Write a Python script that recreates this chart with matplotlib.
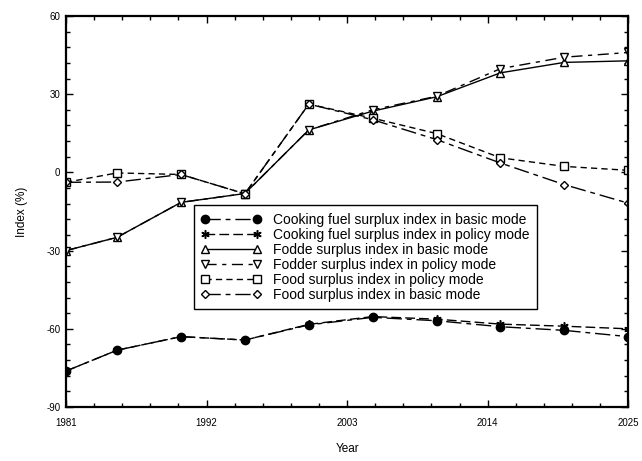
import numpy as np
import matplotlib.pyplot as plt
from matplotlib.ticker import AutoMinorLocator

plt.rcParams['font.family'] = ['Liberation Sans', 'DejaVu Sans']
plt.rcParams['axes.unicode_minus'] = False

years = [1981, 1985, 1990, 1995, 2000, 2005, 2010, 2015, 2020, 2025]

cooking_basic = [-76.2, -68.2, -63.0, -64.3, -58.5, -55.6, -56.9, -59.2, -60.6, -63.0]
cooking_policy = [-76.2, -68.2, -63.0, -64.3, -58.3, -55.3, -56.3, -58.2, -59.0, -60.0]
fodder_basic = [-30.0, -24.9, -11.5, -8.1, 16.3, 23.5, 29.0, 38.2, 42.2, 42.8]
fodder_policy = [-30.0, -24.9, -11.5, -8.1, 16.3, 24.0, 29.2, 39.8, 44.2, 46.0]
food_policy = [-3.8, -0.2, -0.8, -8.2, 26.2, 20.8, 14.9, 5.6, 2.3, 0.8]
food_basic = [-3.8, -3.7, -0.8, -8.2, 26.2, 20.2, 12.6, 3.6, -4.7, -11.8]

labels = [
    "Cooking fuel surplux index in basic mode",
    "Cooking fuel surplus index in policy mode",
    "Fodde surplus index in basic mode",
    "Fodder surplus index in policy mode",
    "Food surplus index in policy mode",
    "Food surplus index in basic mode",
]

fig = plt.figure(figsize=(6.42, 4.61), dpi=100)
ax = fig.add_axes([0.1028, 0.1171, 0.8758, 0.8482])

ms = 6
ax.plot(years, cooking_basic, color='black', lw=1, ls=(0, (11, 3.5, 3.5, 3.5)),
        marker='o', ms=ms, mfc='black', mec='black', label=labels[0])
ax.plot(years, cooking_policy, color='black', lw=1, ls=(0, (7, 3)),
        marker=(6, 2, 0), ms=ms, mec='black', mew=1.1, label=labels[1])
ax.plot(years, fodder_basic, color='black', lw=1, ls='-',
        marker='^', ms=ms, mfc='white', mec='black', label=labels[2])
ax.plot(years, fodder_policy, color='black', lw=1, ls=(0, (8, 4, 3, 4)),
        marker='v', ms=ms, mfc='white', mec='black', label=labels[3])
ax.plot(years, food_policy, color='black', lw=1, ls=(0, (4.5, 3)),
        marker='s', ms=ms, mfc='white', mec='black', label=labels[4])
ax.plot(years, food_basic, color='black', lw=1, ls=(0, (11, 3.5, 3.5, 3.5)),
        marker='D', ms=4.5, mfc='white', mec='black', label=labels[5])

ax.set_xlim(1981, 2025)
ax.set_ylim(-90, 60)
ax.set_xticks([1981, 1992, 2003, 2014, 2025])
ax.set_yticks([-90, -60, -30, 0, 30, 60])
ax.xaxis.set_minor_locator(AutoMinorLocator(5))
ax.yaxis.set_minor_locator(AutoMinorLocator(5))
ax.tick_params(which='both', direction='in', top=True, right=True,
               labelsize=7, width=1)
ax.tick_params(which='major', length=5)
ax.tick_params(which='minor', length=3)
ax.tick_params(axis='x', pad=8)
ax.tick_params(axis='y', pad=4)
for sp in ax.spines.values():
    sp.set_linewidth(1.6)

ax.set_xlabel("Year", fontsize=8.5, labelpad=11)
ax.set_ylabel("Index (%)", fontsize=8.5, labelpad=13)

leg = ax.legend(loc='lower left', bbox_to_anchor=(0.227, 0.250), fontsize=10,
                frameon=True, fancybox=False, edgecolor='black',
                handlelength=4.3, handletextpad=0.85, borderpad=0.55,
                borderaxespad=0, labelspacing=0.07, numpoints=2,
                framealpha=1, handleheight=0.8)
leg.get_frame().set_linewidth(1)

fig.savefig("out.png", dpi=100)
